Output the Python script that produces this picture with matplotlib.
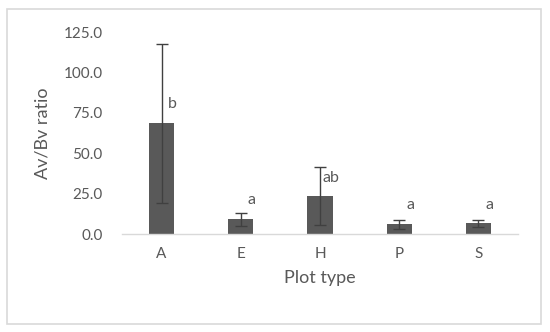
import matplotlib.pyplot as plt
from matplotlib.patches import Rectangle

# values
plot_types = ['A', 'E', 'H', 'P', 'S']
ratios = [68.5, 9.1, 23.5, 6.0, 6.6]
errors = [49.0, 3.9, 17.7, 3.0, 2.0]
letters = ['b', 'a', 'ab', 'a', 'a']
letter_y = [80.5, 21.0, 35.0, 18.0, 18.0]
y_ticks = [0, 25, 50, 75, 100, 125]

plt.rcParams['font.family'] = ['Lato', 'DejaVu Sans']
text_col = '#595959'

fig = plt.figure(figsize=(5.5, 3.32), dpi=100)
ax = fig.add_axes([0.2218, 0.295, 0.72, 0.6084])

x = range(len(plot_types))
ax.bar(x, ratios, width=0.32, color='#595959', zorder=2)
ax.errorbar(x, ratios, yerr=errors, fmt='none', ecolor='#404040',
            elinewidth=1.0, capsize=4, capthick=1.0, zorder=3)
for i, lab in enumerate(letters):
    ax.text(i + 0.14, letter_y[i], lab, ha='center', va='center',
            fontsize=11.5, color=text_col)

ax.set_xlim(-0.5, len(plot_types) - 0.5)
ax.set_ylim(0, 125)
ax.set_yticks(y_ticks)
ax.set_yticklabels([f'{t:.1f}' for t in y_ticks])
ax.set_xticks(list(x))
ax.set_xticklabels(plot_types)
ax.tick_params(axis='both', length=0, labelsize=11, colors=text_col)
ax.tick_params(axis='y', pad=14)
ax.tick_params(axis='x', pad=9)
for side in ['top', 'right', 'left']:
    ax.spines[side].set_visible(False)
ax.spines['bottom'].set_color('#d9d9d9')
ax.spines['bottom'].set_linewidth(1.0)

ax.set_ylabel('Av/Bv ratio', fontsize=13, color=text_col, labelpad=9)
ax.set_xlabel('Plot type', fontsize=13, color=text_col, labelpad=7)

# outer chart frame
fig.patches.append(Rectangle((7 / 550, 8 / 332), 534 / 550, 315 / 332,
                             transform=fig.transFigure, fill=False,
                             edgecolor='#d9d9d9', linewidth=1.2))

fig.savefig('out.png', dpi=100)
